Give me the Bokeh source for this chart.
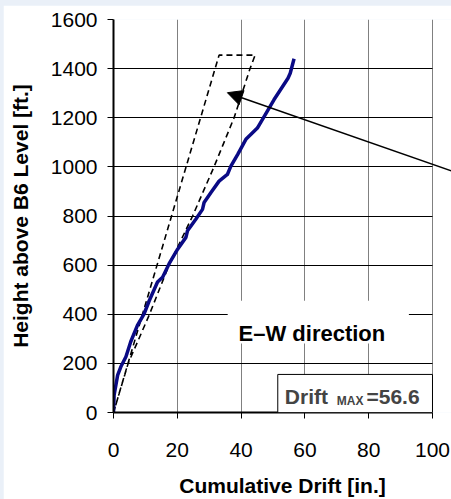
from bokeh.plotting import figure
from bokeh.models import (Range1d, FixedTicker, Arrow, NormalHead, Label,
                          BoxAnnotation)
from bokeh.layouts import column
from bokeh.embed import file_html
from bokeh.resources import INLINE

# ---- data ----
drift_in = [0, 0.2, 1.3, 2.3, 3.9, 5.4, 7.5, 9.6, 11.2, 13.8, 15.4, 17.4,
            20.1, 22.7, 23.2, 25.8, 27.9, 28.4, 30.5, 33.1, 35.7, 36.8,
            38.9, 41.5, 45.1, 50.3, 54.7, 55.4, 56.6]
height_ft = [0, 71, 152, 186, 227, 288, 355, 402, 455, 531, 551, 605,
             665, 713, 740, 787, 827, 855, 895, 942, 969, 1003,
             1050, 1112, 1158, 1273, 1361, 1381, 1440]

env_x = [0, 33.1, 44.4, 42.8, 37.8, 31.5, 24.8, 17.4, 11.2, 4.6, 0]
env_y = [0, 1455, 1455, 1400, 1200, 1000, 800, 600, 397, 200, 0]

x_ticks = [0, 20, 40, 60, 80, 100]
y_ticks = [0, 200, 400, 600, 800, 1000, 1200, 1400, 1600]

drift_max = 56.6
arrow_tip = (35.7, 1302)
arrow_tail = (108.0, 974)

FONT = "Liberation Sans"

p = figure(width=448, height=494, output_backend="svg", toolbar_location=None,
           x_range=Range1d(0, 105.96), y_range=Range1d(0, 1600),
           min_border_left=110, min_border_right=0,
           min_border_top=14, min_border_bottom=85,
           background_fill_color="white", border_fill_color="white",
           outline_line_color=None)
p.margin = (5, 0, 0, 3)

# grid
p.xgrid.ticker = FixedTicker(ticks=x_ticks)
p.ygrid.ticker = FixedTicker(ticks=y_ticks)
p.xgrid.grid_line_color = "#808080"
p.xgrid.grid_line_width = 1
p.ygrid.grid_line_color = "black"
p.ygrid.grid_line_width = 1
p.ygrid.cross_bounds = (0, 100)

# axes
for ax in (p.xaxis[0], p.yaxis[0]):
    ax.axis_line_color = "black"
    ax.axis_line_width = 2
    ax.major_tick_line_color = "black"
    ax.major_tick_out = 6
    ax.major_tick_in = 0
    ax.minor_tick_line_color = None
    ax.major_label_text_font = FONT
    ax.major_label_text_font_size = "21px"
    ax.major_label_text_color = "black"
    ax.major_label_text_line_height = 1.0
    ax.axis_label_text_font = FONT
    ax.axis_label_text_font_size = "21px"
    ax.axis_label_text_font_style = "bold"
    ax.axis_label_text_color = "black"
    ax.axis_label_text_line_height = 1.0

p.xaxis.ticker = FixedTicker(ticks=x_ticks)
p.yaxis.ticker = FixedTicker(ticks=y_ticks)
p.xaxis.bounds = (0, 100)
p.xaxis.axis_label = "Cumulative Drift [in.]"
p.yaxis.axis_label = "Height above B6 Level [ft.]"
p.yaxis.major_label_standoff = 10
p.xaxis.major_label_standoff = 24
p.yaxis.axis_label_standoff = 16
p.xaxis.axis_label_standoff = 14

# envelope (dashed)
p.line(env_x, env_y, line_color="black", line_width=1.6, line_dash="6 4")
# drift profile
p.line(drift_in, height_ft, line_color="#0a0a85", line_width=3.5,
       line_join="round")

# arrow
p.add_layout(Arrow(end=NormalHead(size=15, fill_color="black",
                                  line_color="black"),
                   x_start=arrow_tail[0], y_start=arrow_tail[1],
                   x_end=arrow_tip[0], y_end=arrow_tip[1],
                   line_color="black", line_width=1.5))

# text boxes
p.add_layout(BoxAnnotation(left=35.8, right=92.6, bottom=281, top=455,
                           fill_color="white", fill_alpha=1,
                           line_color=None))
p.add_layout(BoxAnnotation(left=51.5, right=100, bottom=0, top=155,
                           fill_color="white", fill_alpha=1,
                           line_color="black", line_alpha=1, line_width=1))

p.add_layout(Label(x=39.2, y=321, text="E\u2013W direction",
                   text_font=FONT, text_font_size="22px",
                   text_font_style="bold", text_color="black",
                   text_baseline="alphabetic"))
p.add_layout(Label(x=53.7, y=65, text="Drift", text_font=FONT,
                   text_font_size="21px", text_font_style="bold",
                   text_baseline="alphabetic"))
p.add_layout(Label(x=70.0, y=46, text="MAX", text_font=FONT,
                   text_font_size="12px", text_font_style="bold",
                   text_baseline="alphabetic"))
p.add_layout(Label(x=79.3, y=65, text="=%.1f" % drift_max, text_font=FONT,
                   text_font_size="21px", text_font_style="bold",
                   text_baseline="alphabetic"))

layout = column(p, styles={"background-color": "#EAF0F8"}, margin=0)

open("out.html", "w").write(file_html(layout, INLINE))
